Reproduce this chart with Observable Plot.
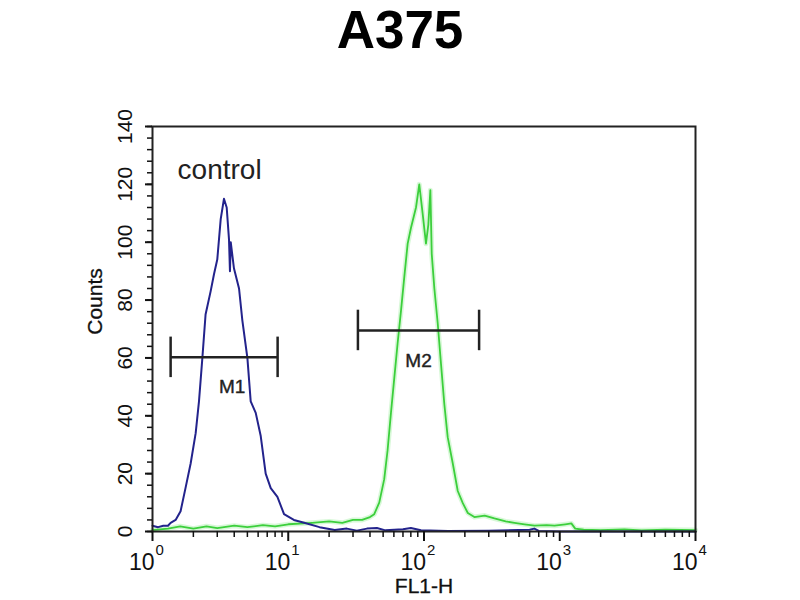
<!DOCTYPE html>
<html><head><meta charset="utf-8">
<script src="https://cdn.jsdelivr.net/npm/d3@7"></script>
<script src="https://cdn.jsdelivr.net/npm/@observablehq/plot@0.6"></script>
<style>
html,body{margin:0;padding:0;background:#fff;}
#wrap{position:relative;width:800px;height:600px;overflow:hidden;background:#fff;}
#title{position:absolute;left:0;top:0;width:800px;text-align:center;font:bold 53px "Liberation Sans",Arial,sans-serif;line-height:60px;color:#000;}
#chart{position:absolute;left:0;top:0;}
</style></head><body>
<div id="wrap"><div id="chart"></div><div id="title">A375</div></div>
<script>
// ---- data ----
const titleText = "A375";
const xLabel = "FL1-H";
const yLabel = "Counts";
const controlLabel = "control";

// control (blue) histogram: FL1-H value, counts
const controlX = [1.0, 1.1, 1.2, 1.3, 1.36, 1.48, 1.61, 1.75, 1.91, 2.08, 2.2, 2.33, 2.46, 2.68, 2.84, 3.0, 3.18, 3.36, 3.52, 3.66, 3.72, 3.77, 3.98, 4.34, 4.59, 5.0, 5.29, 5.76, 6.27, 6.82, 7.43, 8.32, 9.31, 11.0, 13.1, 17, 22, 27, 32, 38, 45, 52, 70, 80, 95, 150, 300, 600, 650, 700, 1000, 10000];
const controlCount = [2, 1.5, 2, 2, 3, 4, 7, 15, 23.5, 34, 45, 60, 75, 83, 89, 94, 108, 115, 112, 101, 90, 100, 91, 84, 73, 60, 45, 41, 33, 20, 15, 12, 6, 4, 3, 1.5, 0.5, 1, 0.3, 1, 1.2, 0.4, 0.8, 1.2, 0.4, 0.2, 0.3, 0.6, 1, 0.2, 0, 0];

// stained (green) histogram
const stainedX = [1.0, 1.3, 1.6, 2.0, 2.5, 3, 4, 5, 6.5, 8, 10, 13, 15, 20, 25, 30, 35, 40, 43, 46.8, 50.9, 53.9, 57.1, 60.4, 63.9, 67.6, 71.6, 75.8, 80.2, 87.3, 92.3, 97.7, 103.4, 107.6, 111.4, 114.0, 119.2, 126.2, 133.4, 141.2, 149.5, 162.8, 177.3, 193.1, 210.3, 235, 280, 330, 400, 464, 550, 652, 800, 915, 1100, 1217, 1300, 1500, 2000, 3000, 4000, 6000, 10000];
const stainedCount = [0.5, 1, 1.8, 1, 1.8, 1.2, 2, 1.5, 2.2, 1.8, 2.5, 2.8, 3, 3.5, 3, 4, 4, 5, 6, 10, 18, 28, 41, 53, 65, 76, 88, 99.5, 105, 112, 120, 110, 99.5, 106, 118, 96, 84, 72, 58, 44, 32.6, 23.6, 14, 9.8, 6.4, 5, 5.5, 4.5, 3.5, 3, 2.5, 2, 2.2, 2, 2.5, 2.8, 1, 0.6, 0.5, 0.7, 0.4, 0.6, 0.5];

// marker gates
const gateNames = ["M1", "M2"];
const gateStart = [1.36, 32.6];
const gateEnd = [8.35, 254.6];
const gateLevel = [60.2, 69.5];

// axis ticks
const xMajorTicks = [1, 10, 100, 1000, 10000];
const xExponents = ["0", "1", "2", "3", "4"];
const yMajorTicks = [0, 20, 40, 60, 80, 100, 120, 140];

// ---- derived tables ----
const control = controlX.map((x, i) => ({x, y: controlCount[i]}));
const stained = stainedX.map((x, i) => ({x, y: stainedCount[i]}));
const gates = gateNames.map((name, i) => ({name, x1: gateStart[i], x2: gateEnd[i], y: gateLevel[i]}));
const xMinorTicks = [];
for (let d = 1; d < 10000; d *= 10) for (let k = 2; k <= 9; k++) xMinorTicks.push(d * k);
const yMinorTicks = d3.range(0, 141, 4);
const xLabels = xMajorTicks.map((v, i) => ({v, e: xExponents[i]}));

const FONT = "'Liberation Sans',Arial,sans-serif";
const capH = 7; // half-height of the gate end caps in counts

const chart = Plot.plot({
  width: 800, height: 600,
  marginTop: 126, marginBottom: 69, marginLeft: 152, marginRight: 105,
  style: {fontFamily: FONT, background: "transparent", color: "#111"},
  x: {type: "log", domain: [1, 10000], axis: null},
  y: {domain: [0, 140], axis: null},
  marks: [
    // green glow + line
    Plot.line(stained, {x: "x", y: "y", stroke: "#b8f2b8", strokeWidth: 5, strokeOpacity: 0.55}),
    Plot.line(stained, {x: "x", y: "y", stroke: "#3ccf3c", strokeWidth: 1.8}),
    // blue control
    Plot.line(control, {x: "x", y: "y", stroke: "#23238c", strokeWidth: 2}),
    // gates
    Plot.ruleY(gates, {x1: "x1", x2: "x2", y: "y", stroke: "#222", strokeWidth: 2.5}),
    Plot.ruleX(gates, {x: "x1", y1: d => d.y - capH, y2: d => d.y + capH, stroke: "#222", strokeWidth: 2.5}),
    Plot.ruleX(gates, {x: "x2", y1: d => d.y - capH, y2: d => d.y + capH, stroke: "#222", strokeWidth: 2.5}),
    Plot.text([gates[0]], {x: d => Math.sqrt(d.x1 * d.x2), y: "y", text: "name", dx: 8, dy: 30, fontSize: 19, fill: "#222", stroke: "#222", strokeWidth: 0.4}),
    Plot.text([gates[1]], {x: d => Math.sqrt(d.x1 * d.x2), y: "y", text: "name", dy: 30, fontSize: 19, fill: "#222", stroke: "#222", strokeWidth: 0.4}),
    // control label
    Plot.text([{x: 1.53, y: 125, t: controlLabel}], {x: "x", y: "y", text: "t", textAnchor: "start", fontSize: 28, fill: "#222"}),
    // frame
    Plot.frame({stroke: "#222", strokeWidth: 2}),
    // y axis ticks
    Plot.axisY(yMinorTicks, {anchor: "left", label: null, tickSize: 5, tickFormat: () => "", strokeWidth: 1.5, stroke: "#111"}),
    Plot.axisY(yMajorTicks, {anchor: "left", label: null, tickSize: 7, tickFormat: () => "", strokeWidth: 2, stroke: "#111"}),
    Plot.text(yMajorTicks, {frameAnchor: "left", y: d => d, text: d => String(d), rotate: -90, dx: -27, lineAnchor: "middle", textAnchor: "middle", fontSize: 21, fill: "#111"}),
    // x axis ticks
    Plot.axisX(xMinorTicks, {anchor: "bottom", label: null, tickSize: 6, tickFormat: () => "", strokeWidth: 1.5, stroke: "#111"}),
    Plot.axisX(xMajorTicks, {anchor: "bottom", label: null, tickSize: 10, tickFormat: () => "", strokeWidth: 2, stroke: "#111"}),
    Plot.text(xLabels, {x: "v", frameAnchor: "bottom", text: () => "10", textAnchor: "end", dx: 2, dy: 31, lineAnchor: "middle", fontSize: 23, fill: "#111"}),
    Plot.text(xLabels, {x: "v", frameAnchor: "bottom", text: "e", textAnchor: "start", dx: 3, dy: 19, lineAnchor: "middle", fontSize: 15, fill: "#111"}),
    // axis titles
    Plot.text([xLabel], {x: () => 100, frameAnchor: "bottom", text: d => d, dy: 55, lineAnchor: "middle", fontSize: 21, fill: "#111", stroke: "#111", strokeWidth: 0.3}),
    Plot.text([yLabel], {frameAnchor: "left", y: () => 68, text: d => d, rotate: -90, dx: -57, lineAnchor: "middle", fontSize: 21, fill: "#111", stroke: "#111", strokeWidth: 0.3})
  ]
});
document.getElementById("chart").appendChild(chart);
document.getElementById("title").textContent = titleText;
</script>
</body></html>
